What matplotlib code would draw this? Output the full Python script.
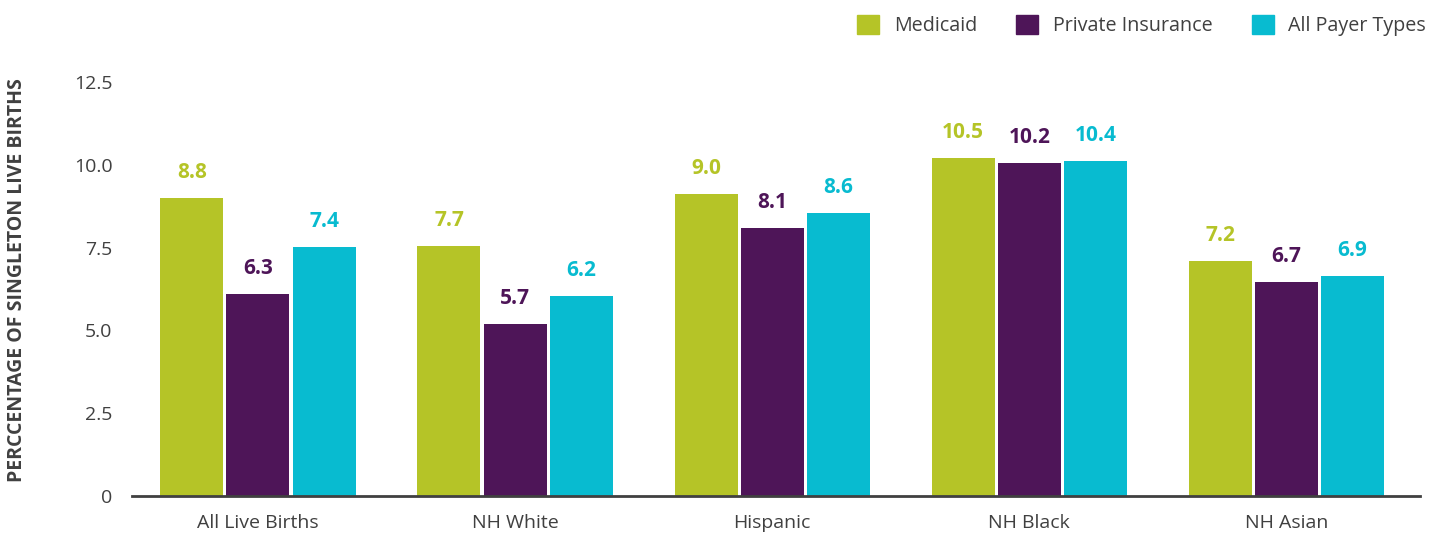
import matplotlib.pyplot as plt
import numpy as np
from matplotlib.patches import Patch

plt.rcParams['font.family'] = ['Open Sans', 'DejaVu Sans']

categories = ["All Live Births", "NH White", "Hispanic", "NH Black", "NH Asian"]
series = ["Medicaid", "Private Insurance", "All Payer Types"]
# bar heights as drawn in the reference
medicaid = [9.0, 7.55, 9.12, 10.2, 7.1]
private = [6.1, 5.19, 8.09, 10.05, 6.46]
all_payer = [7.52, 6.04, 8.54, 10.11, 6.64]
# value labels as printed above the bars
medicaid_lbl = ["8.8", "7.7", "9.0", "10.5", "7.2"]
private_lbl = ["6.3", "5.7", "8.1", "10.2", "6.7"]
all_payer_lbl = ["7.4", "6.2", "8.6", "10.4", "6.9"]
yticks = [0, 2.5, 5.0, 7.5, 10.0, 12.5]
ytick_labels = ["0", "2.5", "5.0", "7.5", "10.0", "12.5"]

colors = ["#B5C427", "#4E1558", "#08BBD0"]
grey = "#404040"

fig = plt.figure(figsize=(14.44, 5.36), dpi=100)
ax = fig.add_axes([0.0914, 0.0746, 0.892, 0.772])

x = np.arange(len(categories))
w = 0.245
step = 0.257
data = [(medicaid, medicaid_lbl), (private, private_lbl), (all_payer, all_payer_lbl)]
for i, (vals, lbls) in enumerate(data):
    xs = x + (i - 1) * step
    ax.bar(xs, vals, width=w, color=colors[i], zorder=2)
    for xx, v, t in zip(xs, vals, lbls):
        ax.annotate(t, (xx, v), xytext=(0, 11), textcoords="offset points",
                    ha="center", va="bottom", fontsize=15, fontweight="bold",
                    color=colors[i])

ax.set_xlim(-0.49, 4.52)
ax.set_ylim(0, 12.5)
ax.set_yticks(yticks)
ax.set_yticklabels(ytick_labels)
ax.set_xticks(x)
ax.set_xticklabels(categories)
ax.tick_params(axis="both", length=0, labelsize=14, labelcolor=grey)
ax.tick_params(axis="y", pad=14)
ax.tick_params(axis="x", pad=13)
for s in ["top", "right", "left"]:
    ax.spines[s].set_visible(False)
ax.spines["bottom"].set_color(grey)
ax.spines["bottom"].set_linewidth(2)

fig.text(0.012, 0.478, "PERCCENTAGE OF SINGLETON LIVE BIRTHS", rotation=90,
         ha="center", va="center", fontsize=14, fontweight="bold", color=grey)

handles = [Patch(color=c) for c in colors]
leg = fig.legend(handles, series, loc="upper right", bbox_to_anchor=(1.0, 1.005),
                 ncol=3, frameon=False, fontsize=14.2, handlelength=1.1,
                 handleheight=1.1, handletextpad=0.75, columnspacing=2.0)
for t in leg.get_texts():
    t.set_color(grey)

fig.savefig("out.png", dpi=100)
